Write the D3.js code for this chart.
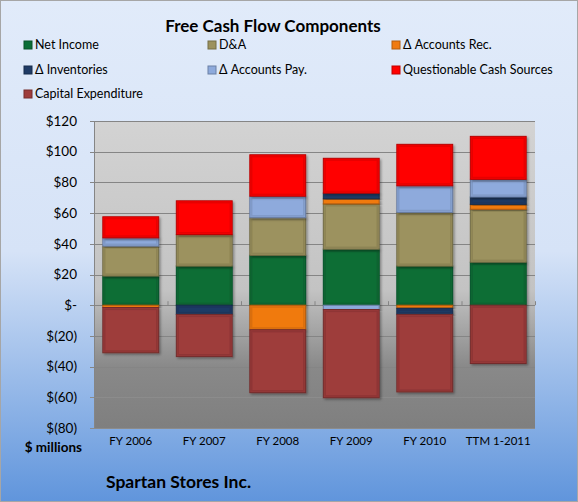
<!DOCTYPE html>
<html><head><meta charset="utf-8">
<script src="https://cdn.jsdelivr.net/npm/d3@7"></script>
<style>html,body{margin:0;padding:0;background:#fff;}svg{display:block;font-family:Lato,"Open Sans",sans-serif;}</style>
</head><body>
<svg id="chart" width="578" height="502"></svg>
<script>
const categories = ["FY 2006","FY 2007","FY 2008","FY 2009","FY 2010","TTM 1-2011"];
const seriesNames = ["Net Income","D&A","\u0394 Accounts Rec.","\u0394 Inventories","\u0394 Accounts Pay.","Questionable Cash Sources","Capital Expenditure"];
const seriesColors = ["#0a6e36","#9c925e","#f07a10","#1f3b66","#8eaadc","#ff0000","#9e3c3b"];
const netIncome    = [19, 25.5, 32.5, 36.5, 25.5, 28];
const da           = [19.5, 20.5, 24.5, 29.5, 35, 34.5];
const accountsRec  = [-1.5, 0, -16, 3.3, -2, 3.2];
const inventories  = [0, -6, 0, 3.7, -4, 4.8];
const accountsPay  = [5.4, 0, 14, -2.8, 17.3, 11.5];
const questionable = [13.7, 22, 27, 22.7, 27, 28];
const capex        = [-29.5, -27.5, -41, -57.5, -50.5, -38];
const yTicks = [120,100,80,60,40,20,0,-20,-40,-60,-80];

const seriesValues = [netIncome, da, accountsRec, inventories, accountsPay, questionable, capex];
const table = categories.map((c,i)=>{const o={cat:c}; seriesNames.forEach((s,j)=>o[s]=seriesValues[j][i]); return o;});

const svg = d3.select("#chart");
const defs = svg.append("defs");
const bg = defs.append("linearGradient").attr("id","bg").attr("x1",0).attr("y1",0).attr("x2",0).attr("y2",1);
bg.append("stop").attr("offset","0%").attr("stop-color","#e1ebfa");
bg.append("stop").attr("offset","50%").attr("stop-color","#d6e3f7");
bg.append("stop").attr("offset","100%").attr("stop-color","#6095dc");
const pg = defs.append("linearGradient").attr("id","pg").attr("x1",0).attr("y1",0).attr("x2",0).attr("y2",1);
pg.append("stop").attr("offset","0%").attr("stop-color","#d3d3d3");
pg.append("stop").attr("offset","55%").attr("stop-color","#c3c3c3");
pg.append("stop").attr("offset","80%").attr("stop-color","#898989");
pg.append("stop").attr("offset","100%").attr("stop-color","#7f7f7f");
const f = defs.append("filter").attr("id","sh").attr("x","-20%").attr("y","-20%").attr("width","140%").attr("height","140%");
f.append("feDropShadow").attr("dx",1.5).attr("dy",1.5).attr("stdDeviation",1.2).attr("flood-color","#000").attr("flood-opacity",0.35);

svg.append("rect").attr("x",0.5).attr("y",0.5).attr("width",577).attr("height",501).attr("fill","url(#bg)").attr("stroke","#a6a6a6");

const L=94, R=535, T=121, B=428;
const x = d3.scaleBand().domain(categories).range([L,R]).paddingInner(0.24).paddingOuter(0.12);
const y = d3.scaleLinear().domain([-80,120]).range([B,T]);

svg.append("rect").attr("x",L).attr("y",T).attr("width",R-L).attr("height",B-T).attr("fill","url(#pg)");

// gridlines
svg.append("g").selectAll("line").data(yTicks).join("line")
  .attr("x1",L-4).attr("x2",R).attr("y1",d=>Math.round(y(d))+0.5).attr("y2",d=>Math.round(y(d))+0.5)
  .attr("stroke",d=>d<=-60?"#8c8c8c":"#858585").attr("stroke-width",1);
svg.append("line").attr("x1",L+0.5).attr("x2",L+0.5).attr("y1",T).attr("y2",B).attr("stroke","#858585");

// y labels
const fmt = d => d===0 ? "$-" : (d<0 ? "$(" + (-d) + ")" : "$" + d);
svg.append("g").selectAll("text").data(yTicks).join("text")
  .attr("x",77).attr("y",d=>y(d)).attr("dy","0.35em").attr("text-anchor","end")
  .attr("font-size",13.5).attr("fill","#000").text(fmt);

// category ticks on zero line
const bounds = d3.range(categories.length+1).map(i=>L + i*(R-L)/categories.length);
svg.append("g").selectAll("line").data(bounds).join("line")
  .attr("x1",d=>d+0.5).attr("x2",d=>d+0.5).attr("y1",y(0)-4).attr("y2",y(0))
  .attr("stroke","#858585");

// stacked bars
const stack = d3.stack().keys(seriesNames).offset(d3.stackOffsetDiverging);
const layers = stack(table);
const g = svg.append("g");
layers.forEach((layer,li)=>{
  const col = seriesColors[li];
  layer.forEach(d=>{
    if (d[0]===d[1]) return;
    const y0 = y(Math.max(d[0],d[1])), y1 = y(Math.min(d[0],d[1]));
    const xx = x(d.data.cat), w = x.bandwidth(), h = y1-y0;
    const sg = g.append("g").attr("filter","url(#sh)");
    sg.append("rect").attr("x",xx).attr("y",y0).attr("width",w).attr("height",h)
      .attr("fill",col).attr("stroke",d3.color(col).darker(0.9)).attr("stroke-width",1);
    if (h>6){
      sg.append("rect").attr("x",xx+1.8).attr("y",y0+1.8).attr("width",w-3.6).attr("height",h-3.6)
        .attr("fill","none").attr("stroke",d3.color(col).darker(0.35)).attr("stroke-width",1.6).attr("opacity",0.8);
    }
  });
});

// x labels
svg.append("g").selectAll("text").data(categories).join("text")
  .attr("x",d=>x(d)+x.bandwidth()/2).attr("y",441).attr("dy","0.35em").attr("text-anchor","middle")
  .attr("font-size",11.5).attr("fill","#000").text(d=>d);

svg.append("text").attr("x",82).attr("y",447).attr("dy","0.35em").attr("text-anchor","end")
  .attr("font-size",13.5).attr("font-weight","bold").text("$ millions");
svg.append("text").attr("x",106).attr("y",482).attr("dy","0.35em")
  .attr("font-size",17.5).attr("font-weight","bold").text("Spartan Stores Inc.");

// title
svg.append("text").attr("x",273).attr("y",26).attr("dy","0.35em").attr("text-anchor","middle")
  .attr("font-size",17).attr("font-weight","bold").text("Free Cash Flow Components");

// legend
const colX = [24, 208, 392], rowY = [45, 70, 94];
const lg = svg.append("g").selectAll("g").data(seriesNames).join("g")
  .attr("transform",(d,i)=>`translate(${colX[i%3]},${rowY[Math.floor(i/3)]})`);
lg.append("rect").attr("x",0).attr("y",-4).attr("width",8).attr("height",8)
  .attr("fill",(d,i)=>seriesColors[i]).attr("stroke",(d,i)=>d3.color(seriesColors[i]).darker(0.8)).attr("stroke-width",1);
lg.append("text").attr("x",11).attr("y",0).attr("dy","0.35em").attr("font-size",12.5).attr("fill","#000").text(d=>d);
</script>
</body></html>
